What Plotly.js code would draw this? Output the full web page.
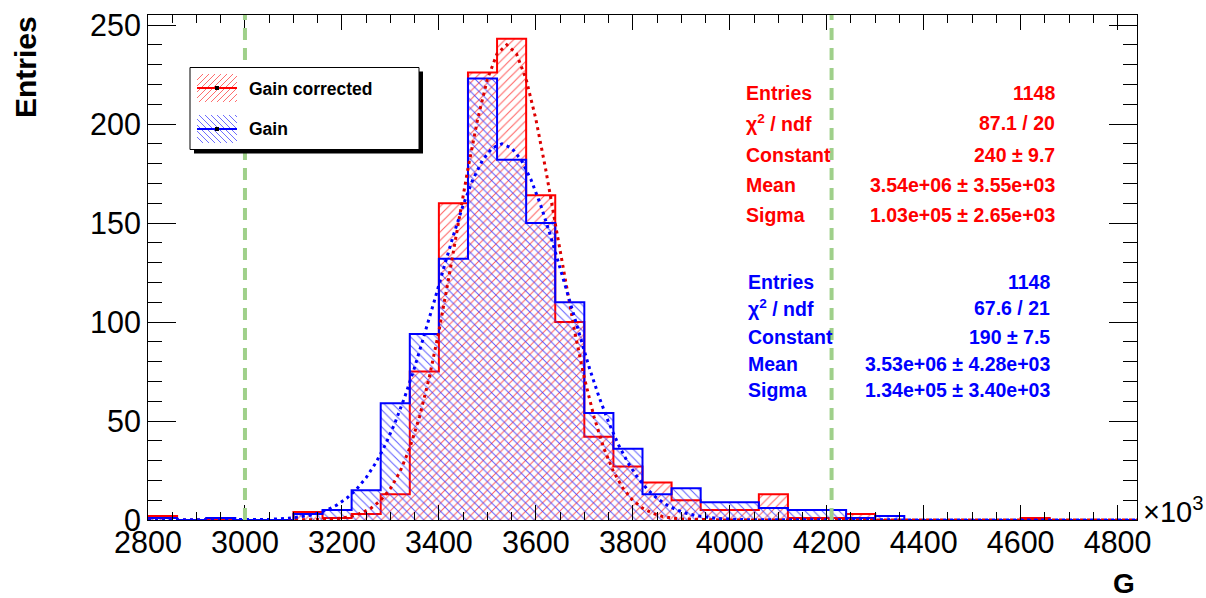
<!DOCTYPE html>
<html><head><meta charset="utf-8">
<script src="https://cdn.plot.ly/plotly-3.0.1.min.js"></script>
<style>html,body{margin:0;padding:0;background:#fff;}#chart{width:1206px;height:598px;}</style>
</head><body><div id="chart"></div>
<script>
// ---- data (G in units of 10^3) ----
const binEdges = [2800,2860,2920,2980,3040,3100,3160,3220,3280,3340,3400,3460,3520,3580,3640,3700,3760,3820,3880,3940,4000,4060,4120,4180,4240,4300,4360,4420,4480,4540,4600,4660,4720,4780,4840];
const gainCorrectedCounts = [2,0,0,0,0,4,1,3,13,75,160,226,243,164,100,42,27,19,10,5,5,13,1,1,3,0,0,0,0,0,1,0,0,0];
const gainCounts = [1,0,1,0,0,3,5,15,59,94,132,223,182,150,110,54,36,13,16,9,9,6,5,5,1,2,0,0,0,0,0,0,0,0];

const fitCorrX = [2800,3100,3140,3180,3200,3220,3240,3260,3280,3300,3320,3340,3360,3380,3400,3420,3440,3460,3480,3500,3520,3540,3560,3580,3600,3620,3640,3660,3680,3700,3720,3740,3760,3780,3800,3820,3840,3860,3880,3900,3940,3980,4840];
const fitCorrY = [0,0.05,0.13,0.53,1.0,1.9,3.5,6.0,9.9,15.9,24.5,36.4,52.1,71.8,95.3,121.8,149.8,177.5,202.5,222.6,235.5,240,235.5,222.6,202.5,177.5,149.8,121.8,95.3,71.8,52.1,36.4,24.5,15.9,9.9,6.0,3.5,1.9,1.0,0.53,0.13,0.03,0];
const fitGainX = [2800,3010,3050,3090,3130,3150,3170,3190,3210,3230,3250,3270,3290,3310,3330,3350,3370,3390,3410,3430,3450,3470,3490,3510,3530,3550,3570,3590,3610,3630,3650,3670,3690,3710,3730,3750,3770,3790,3810,3830,3850,3870,3890,3910,3930,3970,4010,4050,4840];
const fitGainY = [0,0.10,0.31,0.87,2.21,3.41,5.15,7.6,11.0,15.5,21.4,28.9,38.2,49.4,62.4,77.1,93.1,110.1,127.2,143.8,159.0,171.9,181.7,187.9,190,187.9,181.7,171.9,159.0,143.8,127.2,110.1,93.1,77.1,62.4,49.4,38.2,28.9,21.4,15.5,11.0,7.6,5.15,3.41,2.21,0.87,0.31,0.10,0];

const cutLines = [3000, 4210];
const seriesNames = ["Gain corrected", "Gain"];
const statLabels = ["Entries", "χ<sup>2</sup> / ndf", "Constant", "Mean", "Sigma"];
const statsCorrected = ["1148", "87.1 / 20", "240 ± 9.7", "3.54e+06 ± 3.55e+03", "1.03e+05 ± 2.65e+03"];
const statsGain = ["1148", "67.6 / 21", "190 ± 7.5", "3.53e+06 ± 4.28e+03", "1.34e+05 ± 3.40e+03"];

// ---- layout helpers (pixel -> paper) ----
const L = 148, R = 1137, T = 15, B = 520;
const px = x => (x - L) / (R - L);
const py = y => (B - y) / (B - T);
const FONT = "Liberation Sans, Arial, Helvetica, sans-serif";
const stepY = c => c.concat([c[c.length - 1]]);

const RED = "#ff0000", BLUE = "#0000ff";

const traces = [
  {type: "scatter", x: binEdges, y: stepY(gainCorrectedCounts), mode: "lines",
   line: {color: RED, width: 2, shape: "hv"}, fill: "tozeroy", fillcolor: "rgba(255,0,0,0.6)",
   fillpattern: {shape: "/", fgcolor: "rgba(255,40,40,0.75)", bgcolor: "rgba(255,255,255,0)", size: 6, solidity: 0.17},
   name: seriesNames[0], showlegend: false, hoverinfo: "skip"},
  {type: "scatter", x: binEdges, y: stepY(gainCounts), mode: "lines",
   line: {color: BLUE, width: 2, shape: "hv"}, fill: "tozeroy", fillcolor: "rgba(0,0,255,0.6)",
   fillpattern: {shape: "\\", fgcolor: "rgba(40,40,255,0.75)", bgcolor: "rgba(255,255,255,0)", size: 6, solidity: 0.17},
   name: seriesNames[1], showlegend: false, hoverinfo: "skip"},
  {type: "scatter", x: fitCorrX, y: fitCorrY, mode: "lines",
   line: {color: "#dd0000", width: 3, dash: "3px,4px"}, showlegend: false, hoverinfo: "skip"},
  {type: "scatter", x: fitGainX, y: fitGainY, mode: "lines",
   line: {color: BLUE, width: 3, dash: "3px,4px"}, showlegend: false, hoverinfo: "skip"}
];

const shapes = [];
cutLines.forEach(v => shapes.push({type: "line", xref: "x", yref: "paper", x0: v, x1: v, y0: 0, y1: 1,
  line: {color: "#9fd08a", width: 4, dash: "12px,8px"}, layer: "above"}));

// legend box with shadow
shapes.push({type: "rect", xref: "paper", yref: "paper", x0: px(194), x1: px(423), y0: py(153.5), y1: py(71.5),
  fillcolor: "#000", line: {width: 0}, layer: "above"});
shapes.push({type: "rect", xref: "paper", yref: "paper", x0: px(190), x1: px(419), y0: py(149.5), y1: py(67.5),
  fillcolor: "#fff", line: {color: "#000", width: 1}, layer: "above"});

function hatchPath(x0, y0, x1, y1, dir, sp) {
  const w = x1 - x0, h = y1 - y0;
  let d = "";
  for (let k = -h; k < w; k += sp) {
    let ax = k, ay = h, bx = k + h, by = 0;
    if (dir < 0) { ay = 0; by = h; }
    let t0 = 0, t1 = 1;
    const dx = bx - ax;
    if (ax < 0) t0 = Math.max(t0, (0 - ax) / dx);
    if (bx > w) t1 = Math.min(t1, (w - ax) / dx);
    if (t1 <= t0) continue;
    const sx = ax + dx * t0, sy = ay + (by - ay) * t0;
    const ex = ax + dx * t1, ey = ay + (by - ay) * t1;
    d += `M${px(x0 + sx)},${py(y0 + sy)}L${px(x0 + ex)},${py(y0 + ey)}`;
  }
  return d;
}
const swatches = [{y0: 74, y1: 102, dir: 1, col: "rgba(255,60,60,0.75)", line: RED},
                  {y0: 115, y1: 143, dir: -1, col: "rgba(60,60,255,0.75)", line: BLUE}];
swatches.forEach(s => {
  shapes.push({type: "path", xref: "paper", yref: "paper", path: hatchPath(197, s.y0, 237, s.y1, s.dir, 6),
    line: {color: s.col, width: 1}, layer: "above"});
  const ym = (s.y0 + s.y1) / 2;
  shapes.push({type: "line", xref: "paper", yref: "paper", x0: px(197), x1: px(237), y0: py(ym), y1: py(ym),
    line: {color: s.line, width: 2}, layer: "above"});
  shapes.push({type: "rect", xref: "paper", yref: "paper", x0: px(215), x1: px(219), y0: py(ym + 2), y1: py(ym - 2),
    fillcolor: "#000", line: {width: 0}, layer: "above"});
});

const ann = [];
function txt(text, x, y, xa, size, color, extra) {
  ann.push(Object.assign({text, x: px(x), y: py(y), xref: "paper", yref: "paper", xanchor: xa, yanchor: "middle",
    showarrow: false, font: {family: FONT, size, color}}, extra || {}));
}
txt("<b>" + seriesNames[0] + "</b>", 247, 89, "left", 17.5, "#000");
txt("<b>" + seriesNames[1] + "</b>", 247, 129, "left", 17.5, "#000");

const redRows = [93, 123.5, 155, 185, 215];
const blueRows = [282, 307.5, 337, 363.5, 390];
statLabels.forEach((lab, i) => {
  txt("<b>" + lab + "</b>", 744, redRows[i], "left", 19.5, RED);
  txt("<b>" + statsCorrected[i] + "</b>", 1057, redRows[i], "right", 19.5, RED);
  txt("<b>" + lab + "</b>", 746, blueRows[i], "left", 19.5, BLUE);
  txt("<b>" + statsGain[i] + "</b>", 1052, blueRows[i], "right", 19.5, BLUE);
});
txt("×10<sup>3</sup>", 1141, 510, "left", 29, "#000");
txt("<b>G</b>", 1137, 583, "right", 28, "#000");
txt("<b>Entries</b>", 25, 67, "center", 30, "#000", {textangle: -90});

const axisCommon = {showgrid: false, zeroline: false, showline: true, linecolor: "#000", linewidth: 1,
  mirror: "allticks", ticks: "inside", tickcolor: "#000", tickwidth: 1,
  tickfont: {family: FONT, size: 30.5, color: "#000"}};

const layout = {
  width: 1206, height: 598, paper_bgcolor: "#fff", plot_bgcolor: "#fff",
  margin: {l: L, r: 1206 - R, t: T, b: 598 - B, pad: 0},
  showlegend: false,
  xaxis: Object.assign({}, axisCommon, {range: [2800, 4840], tick0: 2800, dtick: 200, ticklen: 15,
    ticklabelstandoff: -5,
    minor: {ticks: "inside", ticklen: 8, dtick: 50, tickcolor: "#000", tickwidth: 1}}),
  yaxis: Object.assign({}, axisCommon, {range: [0, 255.05], tick0: 0, dtick: 50, ticklen: 28,
    minor: {ticks: "inside", ticklen: 14, dtick: 10, tickcolor: "#000", tickwidth: 1}}),
  shapes, annotations: ann
};
Plotly.newPlot("chart", traces, layout, {staticPlot: true});
</script></body></html>
